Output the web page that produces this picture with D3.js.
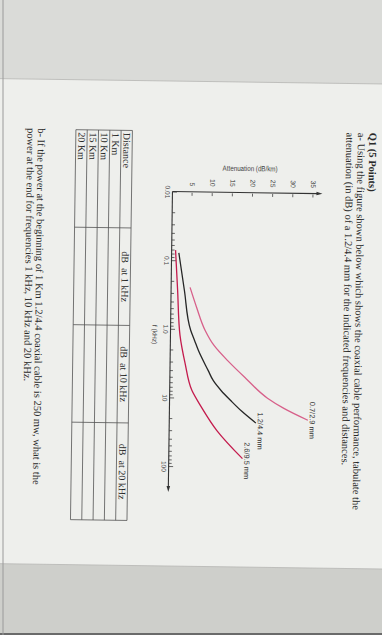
<!DOCTYPE html>
<html>
<head>
<meta charset="utf-8">
<script src="https://cdn.jsdelivr.net/npm/d3@7"></script>
<style>
  body { margin: 0; background: #d9dad7; }
  svg { display: block; }
</style>
</head>
<body>
<div id="main"></div>
<script>
// curve values: frequency in kHz, attenuation in dB/km
const thinFreq = [0.247, 0.483, 1.04, 1.73, 2.86, 5.06, 9.8, 13.7, 20.2];
const thinAtt = [4.7, 6.4, 8.6, 10.9, 14.35, 18.8, 24.3, 28.4, 34.4];

const midFreq = [0.078, 0.273, 1.04, 1.46, 2.05, 4.0, 5.6, 7.8, 10.9, 15.3, 22.7];
const midAtt = [1.8, 3.3, 5.0, 6.0, 7.0, 9.5, 10.8, 12.8, 15.25, 17.9, 21.5];

const thickFreq = [0.0713, 0.273, 1.24, 3.16, 7.8, 13.4, 30, 75.5];
const thickAtt = [0.97, 1.62, 2.37, 3.73, 5.5, 7.85, 11.9, 18.3];

const cableNames = ['0.7/2.9 mm', '1.2/4.4 mm', '2.6/9.5 mm'];

const freqDecades = [0.01, 0.1, 1, 10, 100];
const freqLabels = ['0.01', '0.1', '1.0', '10', '100'];
const attTicks = [5, 10, 15, 20, 25, 30, 35];

const tableHeaders = ['Distance', 'dB  at 1 kHz', 'dB  at 10 kHz', 'dB  at 20 kHz'];
const distances = ['1 Km', '10 Km', '15 Km', '20 Km'];

const questionLines = [
    'a- Using the figure shown below which shows the coaxial cable performance, tabulate the',
    'attenuation (in dB) of a 1.2/4.4 mm for the indicated frequencies and distances.'
];
const partBLines = [
    'b- If the power at the beginning of 1 Km 1.2/4.4 coaxial cable is 250 mw, what is the',
    'power at the end for frequencies 1 kHz, 10 kHz and 20 kHz.'
];

const width = 382;
const height = 635;
const serif = '"Liberation Serif", "Times New Roman", serif';
const sans = '"Liberation Sans", Arial, sans-serif';

const svg = d3.select('#main')
    .append('svg')
    .attr('width', width)
    .attr('height', height);

// grey desk around the sheet
svg.append('rect')
    .attr('width', width)
    .attr('height', height)
    .attr('fill', '#dadbd8');
svg.append('rect')
    .attr('x', 0)
    .attr('y', 540)
    .attr('width', width)
    .attr('height', 95)
    .attr('fill', '#cecfcb');

// the sheet is photographed on its side, slightly skewed
const page = svg.append('g')
    .attr('transform', 'rotate(0.8, 240, 340) translate(382, 82) rotate(90)');

page.append('rect')
    .attr('x', 0)
    .attr('y', -20)
    .attr('width', 485)
    .attr('height', 420)
    .attr('fill', '#eeefec')
    .attr('stroke', '#b5b6b3')
    .attr('stroke-width', 0.8);

svg.append('rect')
    .attr('x', 0)
    .attr('y', 633)
    .attr('width', width)
    .attr('height', 2)
    .attr('fill', '#6a6a6a');
svg.append('line')
    .attr('x1', 3).attr('x2', 3)
    .attr('y1', 0).attr('y2', height)
    .attr('stroke', '#9a9a9a')
    .attr('stroke-width', 1);

// ---- text of the question
page.append('text')
    .attr('x', 49)
    .attr('y', 15.5)
    .attr('font-family', serif)
    .attr('font-weight', 'bold')
    .attr('font-size', 10.5)
    .attr('fill', '#2a2a2a')
    .text('Q1 (5 Points)');

page.selectAll('.qline')
    .data(questionLines)
    .enter()
    .append('text')
    .attr('class', 'qline')
    .attr('x', 49)
    .attr('y', (d, i) => 27 + i * 11.5)
    .attr('font-family', serif)
    .attr('font-size', 10.5)
    .attr('fill', '#2a2a2a')
    .text(d => d);

page.selectAll('.bline')
    .data(partBLines)
    .enter()
    .append('text')
    .attr('class', 'bline')
    .attr('x', 49)
    .attr('y', (d, i) => 347 + i * 10.5)
    .attr('font-family', serif)
    .attr('font-size', 10.5)
    .attr('fill', '#2a2a2a')
    .text(d => d);

// ---- chart
const xScale = d3.scaleLog()
    .domain([0.01, 100])
    .range([110.5, 385]);

const yScale = d3.scaleLinear()
    .domain([0, 35])
    .range([211.6, 70.6]);

const chart = page.append('g');

// log ticks: every 1..9 multiple of each decade
const freqTicks = [];
freqDecades.slice(0, -1).forEach(d => {
    for (let k = 1; k < 10; k++) freqTicks.push(d * k);
});
freqTicks.push(100);

const decadeIndex = v => freqDecades.findIndex(d => Math.abs(v - d) < d * 1e-6);

const xAxis = chart.append('g')
    .attr('transform', `translate(0, ${yScale(0)})`)
    .call(d3.axisBottom(xScale)
        .tickValues(freqTicks)
        .tickSize(-3)
        .tickPadding(2.5)
        .tickFormat(v => decadeIndex(v) >= 0 ? freqLabels[decadeIndex(v)] : ''));

xAxis.select('.domain').remove();
xAxis.selectAll('.tick line')
    .attr('stroke', '#444')
    .attr('stroke-width', 0.8)
    .attr('y2', v => decadeIndex(v) >= 0 ? -4.5 : -3);
xAxis.selectAll('.tick text')
    .attr('font-family', sans)
    .attr('font-size', 6.6)
    .attr('fill', '#444');

const yAxis = chart.append('g')
    .attr('transform', `translate(${xScale(0.01)}, 0)`)
    .call(d3.axisLeft(yScale)
        .tickValues(attTicks)
        .tickSize(-4)
        .tickPadding(5.5));

yAxis.select('.domain').remove();
yAxis.selectAll('.tick line')
    .attr('stroke', '#444')
    .attr('stroke-width', 0.8)
    .attr('x1', 1);
yAxis.selectAll('.tick text')
    .attr('font-family', sans)
    .attr('font-size', 6.8)
    .attr('fill', '#444');

// axis lines with arrow heads
const x0 = xScale(0.01);
const y0 = yScale(0);
const xEnd = xScale(100) + 26;
const yEnd = yScale(35) - 9;

chart.append('line')
    .attr('x1', x0).attr('y1', y0)
    .attr('x2', xEnd - 4).attr('y2', y0)
    .attr('stroke', '#333')
    .attr('stroke-width', 1.1);
chart.append('path')
    .attr('d', `M${xEnd},${y0} l-6,-1.8 l0,3.6 z`)
    .attr('fill', '#333');

chart.append('line')
    .attr('x1', x0).attr('y1', y0)
    .attr('x2', x0).attr('y2', yEnd + 4)
    .attr('stroke', '#333')
    .attr('stroke-width', 1.1);
chart.append('path')
    .attr('d', `M${x0},${yEnd} l-1.8,6 l3.6,0 z`)
    .attr('fill', '#333');

chart.append('text')
    .attr('x', xScale(1) + 6)
    .attr('y', y0 + 18)
    .attr('text-anchor', 'middle')
    .attr('font-family', sans)
    .attr('font-size', 6.6)
    .attr('fill', '#444')
    .text('f (kHz)');

chart.append('text')
    .attr('transform', `translate(${x0 - 21.5}, ${yScale(19.2)}) rotate(-90)`)
    .attr('text-anchor', 'middle')
    .attr('font-family', sans)
    .attr('font-size', 7.5)
    .attr('textLength', 55)
    .attr('lengthAdjust', 'spacingAndGlyphs')
    .attr('fill', '#444')
    .text('Attenuation (dB/km)');

// curves
const series = [
    { name: cableNames[0], freq: thinFreq, att: thinAtt, color: '#d7608a', dx: 0 },
    { name: cableNames[1], freq: midFreq, att: midAtt, color: '#262626', dx: 8 },
    { name: cableNames[2], freq: thickFreq, att: thickAtt, color: '#c41b4d', dx: 2 }
];

const line = d3.line()
    .x(d => xScale(d[0]))
    .y(d => yScale(d[1]))
    .curve(d3.curveMonotoneX);

chart.selectAll('.curve')
    .data(series)
    .enter()
    .append('path')
    .attr('class', 'curve')
    .attr('fill', 'none')
    .attr('stroke', d => d.color)
    .attr('stroke-width', 1.3)
    .attr('d', d => line(d.freq.map((f, i) => [f, d.att[i]])));

chart.selectAll('.curve-label')
    .data(series)
    .enter()
    .append('text')
    .attr('class', 'curve-label')
    .attr('x', d => xScale(d.freq[d.freq.length - 1]) + d.dx)
    .attr('y', d => yScale(d.att[d.att.length - 1]) - 1.8)
    .attr('text-anchor', 'middle')
    .attr('font-family', sans)
    .attr('font-size', 7.4)
    .attr('fill', '#333')
    .text(d => d.name);

// ---- table
const tableLeft = 50;
const colWidth = 97.5;
const tableTop = 252.5;
const rowHeight = 11.3;
const rows = [tableHeaders].concat(distances.map(d => [d, '', '', '']));

const table = page.append('g');

table.selectAll('.hline')
    .data(d3.range(rows.length + 1))
    .enter()
    .append('line')
    .attr('x1', tableLeft)
    .attr('x2', tableLeft + colWidth * tableHeaders.length)
    .attr('y1', i => tableTop + i * rowHeight)
    .attr('y2', i => tableTop + i * rowHeight)
    .attr('stroke', '#555')
    .attr('stroke-width', 0.8);

table.selectAll('.vline')
    .data(d3.range(tableHeaders.length + 1))
    .enter()
    .append('line')
    .attr('x1', i => tableLeft + i * colWidth)
    .attr('x2', i => tableLeft + i * colWidth)
    .attr('y1', tableTop)
    .attr('y2', tableTop + rows.length * rowHeight)
    .attr('stroke', '#555')
    .attr('stroke-width', 0.8);

rows.forEach((row, r) => {
    row.forEach((cell, c) => {
        if (!cell) return;
        table.append('text')
            .attr('x', c === 0 ? tableLeft + 2.5 : tableLeft + (c + 0.5) * colWidth)
            .attr('y', tableTop + (r + 1) * rowHeight - 2.5)
            .attr('text-anchor', c === 0 ? 'start' : 'middle')
            .attr('font-family', serif)
            .attr('font-size', 10)
            .attr('fill', '#2a2a2a')
            .style('white-space', 'pre')
            .text(cell);
    });
});
</script>
</body>
</html>
